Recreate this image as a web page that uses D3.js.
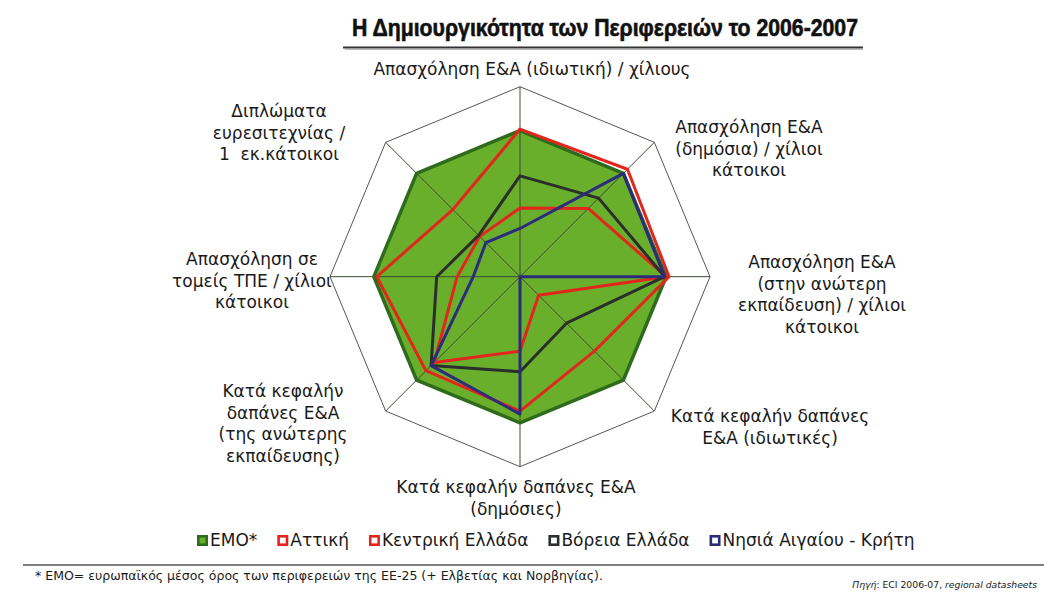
<!DOCTYPE html>
<html><head><meta charset="utf-8">
<script src="https://cdn.jsdelivr.net/npm/d3@7/dist/d3.min.js"></script>
<style>body{margin:0;background:#fff;} svg{display:block;}</style>
</head><body><svg id="c" width="1044" height="596"></svg>
<script>
// ---- data ----
const axisLabels = [
  ["Απασχόληση Ε&Α (ιδιωτική) / χίλιους"],
  ["Απασχόληση Ε&Α", "(δημόσια) / χίλιοι", "κάτοικοι"],
  ["Απασχόληση Ε&Α", "(στην ανώτερη", "εκπαίδευση) / χίλιοι", "κάτοικοι"],
  ["Κατά κεφαλήν δαπάνες", "Ε&Α (ιδιωτικές)"],
  ["Κατά κεφαλήν δαπάνες Ε&Α", "(δημόσιες)"],
  ["Κατά κεφαλήν", "δαπάνες Ε&Α", "(της ανώτερης", "εκπαίδευσης)"],
  ["Απασχόληση σε", "τομείς ΤΠΕ / χίλιοι", "κάτοικοι"],
  ["Διπλώματα", "ευρεσιτεχνίας /", "1  εκ.κάτοικοι"]
];
const seriesNames = ["ΕΜΟ*", "Αττική", "Κεντρική Ελλάδα", "Βόρεια Ελλάδα", "Νησιά Αιγαίου - Κρήτη"];
const emo      = [100, 100, 100, 100, 100, 100, 100, 100];
const attiki   = [101, 104, 102, 72, 92, 91, 98, 65];
const kentriki = [47, 66, 100, 18, 51, 83, 43, 39];
const voreia   = [69, 76, 99, 45, 65, 86, 57, 40];
const nisia    = [33, 100, 99, 0, 94, 86, 32, 33];
const axisMax = 130;
const titleText = "Η Δημιουργικότητα των Περιφερειών το 2006-2007";
const footnoteText = "* ΕΜΟ= ευρωπαϊκός μέσος όρος των περιφερειών της ΕΕ-25 (+ Ελβετίας και Νορβηγίας).";

// ---- layout ----
const svg = d3.select("#c");
const cx = 520, cy = 276.7, R = 190;
const n = axisLabels.length;
const r = d3.scaleLinear().domain([0, axisMax]).range([0, R]);
const ang = d3.scaleLinear().domain([0, n]).range([0, 2 * Math.PI]);
const pt = (i, v) => [cx + r(v) * Math.sin(ang(i)), cy - r(v) * Math.cos(ang(i))];
const lineClosed = d3.line().curve(d3.curveLinearClosed);

const colors = ["#2f6b1c", "#e3261c", "#e3261c", "#2a2f2b", "#2b2c7c"];
const fillGreen = "#6aaf2b";
const labelFont = "DejaVu Sans, Verdana, sans-serif";
const fs = 17;

// title
svg.append("text").attr("x", 352).attr("y", 36)
  .attr("font-family", "Liberation Sans, Arial, sans-serif").attr("font-weight", "bold")
  .attr("font-size", 23.5).attr("fill", "#111").attr("stroke", "#111").attr("stroke-width", 0.6)
  .attr("textLength", 506).attr("lengthAdjust", "spacingAndGlyphs").text(titleText);
svg.append("line").attr("x1", 343).attr("x2", 863).attr("y1", 47.5).attr("y2", 47.5)
  .attr("stroke", "#333").attr("stroke-width", 2.2);
svg.append("line").attr("x1", 345).attr("x2", 863).attr("y1", 49.5).attr("y2", 49.5)
  .attr("stroke", "#bbb").attr("stroke-width", 1.2);

// grid outer octagon
const idx = d3.range(n);
svg.append("path").attr("d", lineClosed(idx.map(i => pt(i, axisMax))))
  .attr("fill", "#fff").attr("stroke", "#555").attr("stroke-width", 1);

// EMO filled area
svg.append("path").attr("d", lineClosed(emo.map((v, i) => pt(i, v))))
  .attr("fill", fillGreen).attr("stroke", "none");

// spokes
svg.selectAll("line.spoke").data(idx).join("line").attr("class", "spoke")
  .attr("x1", cx).attr("y1", cy)
  .attr("x2", i => pt(i, axisMax)[0]).attr("y2", i => pt(i, axisMax)[1])
  .attr("stroke", "#3d4a35").attr("stroke-width", 1);

// EMO outline
svg.append("path").attr("d", lineClosed(emo.map((v, i) => pt(i, v))))
  .attr("fill", "none").attr("stroke", colors[0]).attr("stroke-width", 3.5).attr("stroke-linejoin", "miter");

// series lines
const lineSeries = [attiki, kentriki, voreia, nisia];
lineSeries.forEach((vals, k) => {
  svg.append("path").attr("d", lineClosed(vals.map((v, i) => pt(i, v))))
    .attr("fill", "none").attr("stroke", colors[k + 1]).attr("stroke-width", 3)
    .attr("stroke-linejoin", "round");
});

// axis labels (center x, first baseline y)
const labelPos = [
  [532, 75], [749, 133], [822, 268], [770, 422],
  [516, 493], [283, 397], [252, 265], [279, 117]
];
const lh = 21.5;
axisLabels.forEach((lines, i) => {
  const t = svg.append("text").attr("font-family", labelFont)
    .attr("font-size", fs).attr("fill", "#1a1a1a").attr("text-anchor", "middle");
  lines.forEach((s, j) => {
    t.append("tspan").attr("x", labelPos[i][0]).attr("y", labelPos[i][1] + j * lh)
      .attr("xml:space", "preserve").text(s);
  });
});

// legend
let lx = 197;
const ly = 540;
seriesNames.forEach((name, k) => {
  svg.append("rect").attr("x", lx + 1.3).attr("y", ly - 5 + 1.3).attr("width", 8.4).attr("height", 8.4)
    .attr("fill", k === 0 ? fillGreen : "#fff").attr("stroke", colors[k]).attr("stroke-width", 2.6);
  const t = svg.append("text").attr("x", lx + 13).attr("y", ly + 6)
    .attr("font-family", labelFont).attr("font-size", fs)
    .attr("fill", "#1a1a1a").text(name);
  lx = lx + 13 + t.node().getComputedTextLength() + 20;
});

// footer
svg.append("line").attr("x1", 23).attr("x2", 1044).attr("y1", 565).attr("y2", 565)
  .attr("stroke", "#555").attr("stroke-width", 1.5);
svg.append("text").attr("x", 35).attr("y", 580)
  .attr("font-family", labelFont).attr("font-size", 11.5)
  .attr("fill", "#1a1a1a").attr("textLength", 568).attr("lengthAdjust", "spacingAndGlyphs")
  .text(footnoteText);
const src = svg.append("text").attr("x", 1037).attr("y", 588).attr("text-anchor", "end")
  .attr("font-family", labelFont).attr("font-size", 11).attr("fill", "#1a1a1a");
src.append("tspan").attr("font-style", "italic").text("Πηγή");
src.append("tspan").text(": ECI 2006-07, ");
src.append("tspan").attr("font-style", "italic").text("regional datasheets");
const sw = src.node().getComputedTextLength();
src.attr("font-size", 11 * 185 / sw);
</script>
</body></html>
